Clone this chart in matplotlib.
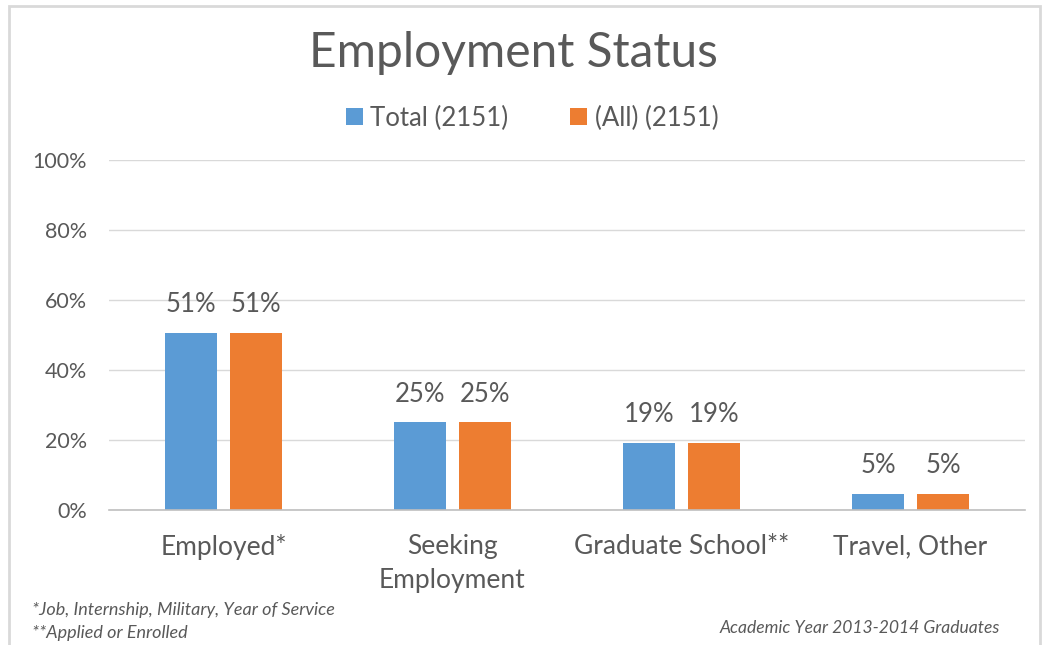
import numpy as np
import matplotlib.pyplot as plt
from matplotlib.patches import Rectangle
from matplotlib.ticker import PercentFormatter

categories = ['Employed*', 'Seeking\nEmployment', 'Graduate School**', 'Travel, Other']
total = [0.506, 0.251, 0.192, 0.046]
all_grads = [0.506, 0.251, 0.192, 0.046]
labels_total = ['51%', '25%', '19%', '5%']
labels_all = ['51%', '25%', '19%', '5%']
series_names = ['Total (2151)', '(All) (2151)']

BLUE = '#5B9BD5'
ORANGE = '#ED7D31'
TEXT = '#595959'

plt.rcParams['font.family'] = ['Lato', 'DejaVu Sans']

fig = plt.figure(figsize=(10.44, 6.45), dpi=100)
ax = fig.add_axes([0.1044, 0.2093, 0.8774, 0.5426])

# light frame around the whole chart
fig.patches.append(Rectangle((0.009, -0.02), 0.987, 1.01, transform=fig.transFigure,
                             fill=False, edgecolor='#D9D9D9', linewidth=2))

x = np.arange(len(categories))
w = 0.227
off = 0.142
b1 = ax.bar(x - off, total, w, color=BLUE, label=series_names[0])
b2 = ax.bar(x + off, all_grads, w, color=ORANGE, label=series_names[1])

for bars, labs in [(b1, labels_total), (b2, labels_all)]:
    for bar, lab in zip(bars, labs):
        ax.text(bar.get_x() + bar.get_width() / 2, bar.get_height() + 0.08, lab,
                ha='center', va='center', fontsize=18.5, color=TEXT)

ax.set_xlim(-0.5, 3.5)
ax.set_ylim(0, 1.0)
ax.set_yticks(np.arange(0, 1.01, 0.2))
ax.yaxis.set_major_formatter(PercentFormatter(1.0, decimals=0))
ax.grid(axis='y', color='#D9D9D9', linewidth=1)
ax.set_axisbelow(True)
for s in ['top', 'right', 'left']:
    ax.spines[s].set_visible(False)
ax.spines['bottom'].set_color('#BFBFBF')
ax.spines['bottom'].set_linewidth(1.2)
ax.tick_params(axis='both', length=0, colors=TEXT)
ax.tick_params(axis='y', labelsize=15.5, pad=16)
ax.tick_params(axis='x', labelsize=19, pad=17.5)
ax.set_xticks(x)
ax.set_xticklabels(categories, linespacing=1.45)

fig.text(0.492, 0.918, 'Employment Status', ha='center', va='center', fontsize=34.5, color=TEXT)

ax.legend(loc='center', bbox_to_anchor=(0.462, 1.12), ncol=2, frameon=False, fontsize=18.5,
          handlelength=0.65, handleheight=0.65, handletextpad=0.3, columnspacing=2.4,
          labelcolor=TEXT)

fig.text(0.031, 0.055, '*Job, Internship, Military, Year of Service', fontsize=13,
         style='italic', color=TEXT, va='center')
fig.text(0.031, 0.018, '**Applied or Enrolled', fontsize=13,
         style='italic', color=TEXT, va='center')
fig.text(0.958, 0.026, 'Academic Year 2013-2014 Graduates', fontsize=12.6,
         style='italic', color=TEXT, va='center', ha='right')

fig.savefig('out.png', dpi=100)
